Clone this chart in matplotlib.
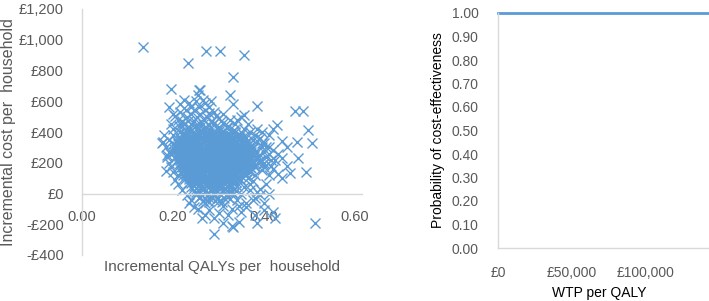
import matplotlib.pyplot as plt

plt.rcParams['font.family'] = ['Liberation Sans', 'DejaVu Sans']

# --- cost-effectiveness plane: PSA draws (incremental QALYs, incremental cost) ---
core_draws = [
    (0.235, 418), (0.252, 425), (0.268, 415), (0.284, 428), (0.301, 419), (0.318, 424), (0.334, 412),
    (0.222, 392), (0.238, 399), (0.251, 388), (0.266, 401), (0.279, 394), (0.293, 386), (0.307, 398),
    (0.321, 391), (0.337, 402), (0.352, 395),
    (0.214, 368), (0.228, 374), (0.242, 362), (0.256, 371), (0.270, 366), (0.283, 377), (0.297, 369),
    (0.310, 361), (0.325, 373), (0.339, 366), (0.356, 371),
    (0.209, 341), (0.221, 349), (0.235, 338), (0.248, 346), (0.262, 352), (0.275, 340), (0.289, 347),
    (0.302, 343), (0.316, 351), (0.330, 339), (0.344, 348), (0.362, 342),
    (0.204, 318), (0.216, 324), (0.229, 313), (0.242, 322), (0.255, 316), (0.268, 327), (0.282, 319),
    (0.295, 312), (0.309, 325), (0.322, 317), (0.336, 321), (0.349, 314), (0.366, 322),
    (0.201, 291), (0.213, 299), (0.226, 288), (0.239, 296), (0.252, 302), (0.265, 290), (0.278, 297),
    (0.291, 293), (0.304, 301), (0.318, 289), (0.331, 298), (0.345, 292), (0.359, 300), (0.375, 294),
    (0.203, 268), (0.217, 274), (0.230, 263), (0.243, 271), (0.256, 266), (0.269, 277), (0.282, 269),
    (0.296, 262), (0.309, 275), (0.322, 267), (0.335, 272), (0.349, 265), (0.363, 273), (0.381, 268),
    (0.206, 243), (0.219, 249), (0.232, 238), (0.245, 246), (0.258, 252), (0.271, 240), (0.284, 247),
    (0.298, 243), (0.311, 251), (0.324, 239), (0.338, 248), (0.351, 242), (0.367, 250), (0.386, 244),
    (0.209, 218), (0.222, 224), (0.235, 213), (0.248, 222), (0.261, 216), (0.274, 227), (0.287, 219),
    (0.300, 212), (0.314, 225), (0.327, 217), (0.341, 221), (0.355, 214), (0.371, 223), (0.392, 218),
    (0.212, 193), (0.225, 199), (0.238, 188), (0.251, 196), (0.264, 202), (0.277, 190), (0.290, 197),
    (0.303, 193), (0.317, 201), (0.330, 189), (0.344, 198), (0.359, 192), (0.376, 197), (0.398, 191),
    (0.215, 168), (0.228, 174), (0.241, 163), (0.254, 171), (0.267, 166), (0.280, 177), (0.293, 169),
    (0.306, 162), (0.320, 175), (0.333, 167), (0.347, 172), (0.363, 165), (0.381, 171),
    (0.218, 143), (0.231, 149), (0.244, 138), (0.257, 146), (0.270, 152), (0.283, 140), (0.296, 147),
    (0.309, 143), (0.323, 151), (0.336, 139), (0.351, 148), (0.368, 142),
    (0.222, 118), (0.235, 124), (0.248, 113), (0.261, 121), (0.274, 116), (0.287, 127), (0.300, 119),
    (0.313, 112), (0.327, 125), (0.341, 117), (0.357, 122),
    (0.227, 93), (0.240, 99), (0.253, 88), (0.266, 96), (0.279, 102), (0.292, 90), (0.305, 97),
    (0.318, 93), (0.332, 101), (0.347, 89),
    (0.232, 68), (0.246, 74), (0.259, 63), (0.272, 71), (0.285, 66), (0.298, 77), (0.311, 69),
    (0.325, 62), (0.339, 72),
    (0.240, 43), (0.255, 49), (0.268, 38), (0.281, 46), (0.294, 52), (0.307, 40), (0.321, 47),
]

dense_draws = [
    (0.229, 383), (0.245, 380), (0.259, 384), (0.273, 379), (0.290, 382), (0.304, 386), (0.318, 380),
    (0.218, 357), (0.232, 355), (0.246, 359), (0.260, 354), (0.274, 358), (0.287, 356), (0.301, 360),
    (0.315, 353), (0.329, 357),
    (0.211, 331), (0.225, 333), (0.238, 329), (0.252, 334), (0.265, 330), (0.279, 332), (0.293, 328),
    (0.306, 335), (0.320, 331), (0.334, 329),
    (0.208, 307), (0.221, 305), (0.235, 309), (0.248, 304), (0.261, 308), (0.274, 306), (0.288, 310),
    (0.301, 303), (0.315, 307), (0.328, 305), (0.342, 308),
    (0.210, 282), (0.223, 284), (0.236, 280), (0.249, 285), (0.262, 281), (0.275, 283), (0.289, 279),
    (0.302, 286), (0.315, 282), (0.329, 280), (0.342, 284), (0.356, 281),
    (0.212, 257), (0.225, 255), (0.238, 259), (0.251, 254), (0.264, 258), (0.277, 256), (0.291, 260),
    (0.304, 253), (0.317, 257), (0.331, 255), (0.344, 259), (0.358, 256),
    (0.215, 232), (0.228, 234), (0.241, 230), (0.254, 235), (0.267, 231), (0.280, 233), (0.294, 229),
    (0.307, 236), (0.320, 232), (0.334, 230), (0.348, 234), (0.362, 231),
    (0.218, 207), (0.231, 205), (0.244, 209), (0.257, 204), (0.270, 208), (0.283, 206), (0.297, 210),
    (0.310, 203), (0.323, 207), (0.337, 205), (0.351, 209),
    (0.221, 182), (0.234, 184), (0.247, 180), (0.260, 185), (0.273, 181), (0.286, 183), (0.300, 179),
    (0.313, 186), (0.326, 182), (0.340, 180), (0.355, 183),
    (0.225, 157), (0.238, 155), (0.251, 159), (0.264, 154), (0.277, 158), (0.290, 156), (0.303, 160),
    (0.316, 153), (0.330, 157), (0.344, 155),
    (0.229, 132), (0.242, 134), (0.255, 130), (0.268, 135), (0.281, 131), (0.294, 133), (0.307, 129),
    (0.320, 136), (0.334, 132),
    (0.235, 107), (0.248, 105), (0.261, 109), (0.274, 104), (0.287, 108), (0.300, 106), (0.313, 110),
    (0.326, 103),
    (0.243, 82), (0.256, 80), (0.269, 84), (0.282, 79), (0.295, 83), (0.308, 81),
]

fill_draws = [
    (0.215, 398), (0.230, 403), (0.245, 396), (0.259, 405), (0.272, 399), (0.286, 391), (0.300, 404),
    (0.314, 396), (0.329, 399), (0.344, 390),
    (0.221, 371), (0.235, 366), (0.249, 375), (0.263, 368), (0.277, 372), (0.290, 364), (0.304, 375),
    (0.318, 367), (0.332, 370), (0.347, 363),
    (0.215, 345), (0.228, 340), (0.242, 350), (0.255, 343), (0.269, 347), (0.282, 338), (0.296, 351),
    (0.309, 344), (0.323, 346), (0.337, 341), (0.352, 349),
    (0.210, 321), (0.223, 316), (0.236, 325), (0.249, 319), (0.262, 322), (0.275, 314), (0.289, 326),
    (0.302, 318), (0.316, 320), (0.329, 315), (0.343, 324), (0.357, 318),
    (0.207, 296), (0.220, 292), (0.233, 300), (0.246, 293), (0.259, 297), (0.272, 289), (0.285, 301),
    (0.298, 294), (0.311, 296), (0.325, 291), (0.338, 299), (0.352, 293), (0.367, 297),
    (0.210, 271), (0.224, 266), (0.237, 275), (0.250, 268), (0.263, 272), (0.276, 264), (0.289, 276),
    (0.302, 269), (0.316, 271), (0.329, 266), (0.342, 274), (0.356, 268), (0.372, 272),
    (0.213, 246), (0.226, 241), (0.239, 250), (0.252, 243), (0.265, 247), (0.278, 239), (0.291, 251),
    (0.305, 244), (0.318, 246), (0.331, 241), (0.345, 249), (0.360, 243), (0.377, 247),
    (0.216, 221), (0.229, 216), (0.242, 225), (0.255, 218), (0.268, 222), (0.281, 214), (0.294, 226),
    (0.307, 219), (0.321, 221), (0.334, 216), (0.348, 224), (0.363, 218), (0.382, 222),
    (0.219, 196), (0.232, 191), (0.245, 200), (0.258, 193), (0.271, 197), (0.284, 189), (0.297, 201),
    (0.310, 194), (0.324, 196), (0.337, 191), (0.352, 199), (0.368, 193), (0.387, 197),
    (0.222, 171), (0.235, 166), (0.248, 175), (0.261, 168), (0.274, 172), (0.287, 164), (0.300, 176),
    (0.313, 169), (0.327, 171), (0.340, 166), (0.355, 174), (0.372, 168),
    (0.225, 146), (0.238, 141), (0.251, 150), (0.264, 143), (0.277, 147), (0.290, 139), (0.303, 151),
    (0.316, 144), (0.330, 146), (0.344, 141), (0.360, 149),
    (0.229, 121), (0.242, 116), (0.255, 125), (0.268, 118), (0.281, 122), (0.294, 114), (0.307, 126),
    (0.320, 119), (0.334, 121), (0.349, 116),
    (0.234, 96), (0.247, 91), (0.260, 100), (0.273, 93), (0.286, 97), (0.299, 89), (0.312, 101),
    (0.325, 94), (0.340, 96),
    (0.239, 71), (0.252, 66), (0.265, 75), (0.278, 68), (0.291, 72), (0.304, 64), (0.318, 76),
    (0.332, 69),
    (0.247, 46), (0.261, 41), (0.274, 50), (0.287, 43), (0.301, 47), (0.314, 39), (0.328, 45),
    (0.245, 18), (0.258, 24), (0.271, 15), (0.284, 22), (0.297, 17), (0.310, 25), (0.324, 19),
    (0.338, 14),
    (0.250, -4), (0.264, -9), (0.277, 0), (0.290, -7), (0.304, -2), (0.317, -10), (0.331, -3),
    (0.258, -28), (0.271, -34), (0.285, -25), (0.298, -32), (0.312, -27), (0.326, -36),
    (0.266, -52), (0.279, -58), (0.293, -50), (0.307, -56),
]

halo_draws = [
    # upper part
    (0.190, 560), (0.200, 520), (0.215, 580), (0.225, 610), (0.240, 560), (0.250, 600), (0.260, 670),
    (0.255, 640), (0.270, 590), (0.280, 560), (0.230, 500), (0.210, 480), (0.195, 450), (0.200, 420),
    (0.220, 440), (0.245, 470), (0.260, 520), (0.275, 500), (0.285, 470), (0.290, 530), (0.300, 490),
    (0.310, 460), (0.265, 450), (0.235, 430), (0.250, 445), (0.300, 435), (0.320, 440), (0.215, 530),
    (0.240, 520), (0.270, 545), (0.325, 480), (0.335, 450),
    (0.205, 505), (0.220, 470), (0.228, 545), (0.235, 590), (0.245, 540), (0.252, 500), (0.258, 565),
    (0.265, 610), (0.268, 480), (0.278, 525), (0.283, 600), (0.288, 450), (0.295, 505), (0.305, 470),
    (0.310, 520), (0.225, 455), (0.240, 450), (0.258, 460), (0.212, 440), (0.232, 470), (0.270, 430),
    (0.280, 445),
    # left side
    (0.180, 380), (0.175, 330), (0.185, 300), (0.190, 270), (0.186, 240), (0.190, 200), (0.195, 170),
    (0.200, 140), (0.190, 350), (0.200, 380), (0.205, 230), (0.200, 320), (0.210, 120), (0.205, 90),
    (0.210, 60), (0.196, 260),
    # right side
    (0.340, 480), (0.350, 500), (0.355, 510), (0.365, 450), (0.370, 400), (0.380, 380), (0.385, 420),
    (0.390, 360), (0.400, 330), (0.410, 300), (0.420, 280), (0.430, 260), (0.440, 230), (0.415, 220),
    (0.400, 200), (0.390, 250), (0.375, 300), (0.360, 330), (0.360, 280), (0.370, 230), (0.380, 180),
    (0.395, 150), (0.410, 120), (0.420, 160), (0.430, 130), (0.450, 180), (0.440, 100), (0.405, 60),
    (0.390, 30), (0.375, 80), (0.360, 130), (0.350, 180), (0.365, 200), (0.345, 370), (0.355, 420),
    (0.375, 350), (0.400, 270), (0.410, 380), (0.420, 420), (0.450, 300), (0.440, 340), (0.350, 240),
    (0.340, 150), (0.395, 300), (0.385, 230), (0.405, 240),
    (0.370, 310), (0.380, 270), (0.390, 210), (0.395, 330), (0.410, 260), (0.360, 360), (0.370, 170),
    (0.380, 120), (0.350, 90), (0.365, 100), (0.400, 170), (0.415, 180), (0.425, 220), (0.385, 340),
    (0.405, 300), (0.395, 400),
    # lower part
    (0.220, 20), (0.230, -10), (0.240, -40), (0.250, 10), (0.260, -20), (0.270, -60), (0.280, -30),
    (0.290, 0), (0.300, -50), (0.310, -80), (0.320, -20), (0.330, 10), (0.340, -40), (0.350, 0),
    (0.360, -60), (0.370, 20), (0.380, -30), (0.390, -10), (0.400, -60), (0.410, 0), (0.255, -100),
    (0.280, -110), (0.300, -130), (0.320, -140), (0.330, -100), (0.350, -120), (0.360, -90),
    (0.380, -140), (0.400, -110), (0.420, -120), (0.290, -160), (0.270, -140), (0.310, -190),
    (0.330, -210), (0.245, -90), (0.235, -60), (0.265, 30), (0.275, 50), (0.285, 20), (0.300, 40),
    (0.315, 30), (0.325, 60), (0.340, 50), (0.355, 40), (0.370, 60), (0.385, 10), (0.345, -80),
    (0.375, -40),
]

outlier_draws = [
    (0.134, 953), (0.233, 848), (0.273, 926), (0.303, 926), (0.356, 900), (0.332, 757),
    (0.195, 680), (0.257, 673), (0.325, 640), (0.332, 582), (0.385, 569), (0.468, 536),
    (0.486, 536), (0.497, 413), (0.505, 330), (0.472, 335), (0.475, 230), (0.492, 140),
    (0.512, -190), (0.290, -265), (0.185, 146), (0.178, 333), (0.187, 250), (0.428, 445),
    (0.457, 133), (0.424, -160), (0.385, -190), (0.263, -160), (0.332, -218), (0.345, -185),
]

all_draws = core_draws + dense_draws + fill_draws + halo_draws + outlier_draws
inc_qalys = [d[0] for d in all_draws]
inc_costs = [d[1] for d in all_draws]

cost_ticks = [-400, -200, 0, 200, 400, 600, 800, 1000, 1200]
qaly_ticks = [0.0, 0.2, 0.4, 0.6]

# --- acceptability curve ---
wtp_values = [0, 10000, 20000, 30000, 40000, 50000, 60000, 70000, 80000, 90000,
              100000, 110000, 120000, 130000, 140000, 150000]
prob_ce = [1.0, 1.0, 1.0, 1.0, 1.0, 1.0, 1.0, 1.0, 1.0, 1.0, 1.0, 1.0, 1.0, 1.0, 1.0, 1.0]
wtp_ticks = [0, 50000, 100000]
prob_ticks = [0.0, 0.1, 0.2, 0.3, 0.4, 0.5, 0.6, 0.7, 0.8, 0.9, 1.0]

blue = '#5B9BD5'
grey_txt = '#595959'
axis_grey = '#D9D9D9'

fig = plt.figure(figsize=(7.09, 3.01), dpi=100)

# left panel
ax1 = fig.add_axes([82 / 709, 1 - 255 / 301, 280 / 709, 246 / 301])
ax1.plot(inc_qalys, inc_costs, linestyle='none', marker='x', markersize=6.5,
         markeredgewidth=1.0, color=blue)
ax1.set_xlim(0, 0.615)
ax1.set_ylim(-400, 1200)
ax1.set_xticks(qaly_ticks)
ax1.set_xticklabels(['%.2f' % v for v in qaly_ticks])
ax1.set_yticks(cost_ticks)
ax1.set_yticklabels([('-£%s' % format(-v, ',')) if v < 0 else ('£%s' % format(v, ',')) for v in cost_ticks])
ax1.spines['top'].set_visible(False)
ax1.spines['right'].set_visible(False)
ax1.spines['bottom'].set_position(('data', 0))
for s in ['left', 'bottom']:
    ax1.spines[s].set_color(axis_grey)
    ax1.spines[s].set_linewidth(1.0)
ax1.tick_params(axis='both', length=0, labelsize=10.5, colors=grey_txt)
ax1.tick_params(axis='x', pad=12)
ax1.tick_params(axis='y', pad=13)
ax1.set_xlabel('Incremental QALYs per  household', fontsize=11, color=grey_txt)
ax1.set_ylabel('Incremental cost per  household', fontsize=11.5, color=grey_txt)
ax1.xaxis.set_label_coords(0.5, -0.022)
ax1.yaxis.set_label_coords(-0.235, 0.5)

# right panel
ax2 = fig.add_axes([498 / 709, 1 - 248 / 301, 211 / 709, 235 / 301])
ax2.plot(wtp_values, prob_ce, color=blue, linewidth=2.0, clip_on=False)
ax2.set_xlim(0, 142500)
ax2.set_ylim(0, 1.0)
ax2.set_xticks(wtp_ticks)
ax2.set_xticklabels(['£' + format(v, ',') for v in wtp_ticks])
ax2.set_yticks(prob_ticks)
ax2.set_yticklabels(['%.2f' % v for v in prob_ticks])
ax2.spines['top'].set_visible(False)
ax2.spines['right'].set_visible(False)
for s in ['left', 'bottom']:
    ax2.spines[s].set_color(axis_grey)
    ax2.spines[s].set_linewidth(1.0)
ax2.tick_params(axis='both', length=0, labelsize=10, colors=grey_txt)
ax2.tick_params(axis='x', pad=13)
ax2.tick_params(axis='y', pad=14)
ax2.set_xlabel('WTP per QALY', fontsize=10, color='#000000')
ax2.set_ylabel('Probability of cost-effectiveness', fontsize=10, color='#000000')
ax2.xaxis.set_label_coords(0.48, -0.16)
ax2.yaxis.set_label_coords(-0.25, 0.5)

fig.savefig('out.png', dpi=100)
